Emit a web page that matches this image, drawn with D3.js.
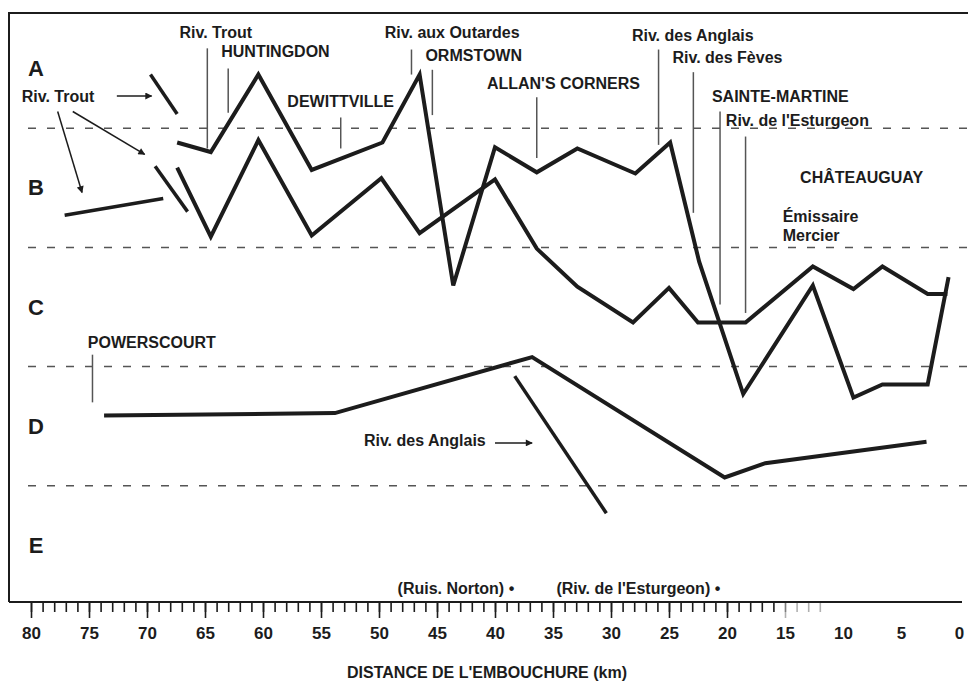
<!DOCTYPE html>
<html>
<head>
<meta charset="utf-8">
<script src="https://cdn.jsdelivr.net/npm/d3@7"></script>
<style>
  body { margin: 0; background: #fff; }
  text { font-family: "Liberation Sans", Arial, sans-serif; font-weight: bold; fill: #1c1c1c; }
</style>
</head>
<body>
<div id="chart"></div>
<script>
// quality classes, boundaries sit on whole numbers of the class index
let classes = ["A", "B", "C", "D", "E"];
let boundaries = [1, 2, 3, 4];

// profiles along the river: [km from mouth, class index]
let upperProfile = [
  [67.4, 1.12], [64.5, 1.20], [60.4, 0.55], [55.8, 1.35], [49.7, 1.12],
  [46.5, 0.55], [43.6, 2.32], [40.0, 1.16], [36.4, 1.37], [32.9, 1.17],
  [27.9, 1.38], [24.9, 1.12], [22.4, 2.12], [18.6, 3.23], [12.6, 2.32],
  [9.1, 3.26], [6.6, 3.15], [2.7, 3.15], [0.9, 2.25]
];
let lowerProfile = [
  [67.4, 1.33], [64.5, 1.91], [60.4, 1.10], [55.8, 1.90], [49.8, 1.42],
  [46.5, 1.88], [40.0, 1.43], [36.4, 2.01], [32.9, 2.33], [28.1, 2.63],
  [25.0, 2.34], [22.5, 2.63], [18.4, 2.63], [12.6, 2.16], [9.1, 2.35],
  [6.6, 2.16], [2.7, 2.39], [1.0, 2.39]
];
let powerscourtProfile = [
  [73.7, 3.41], [53.8, 3.39], [36.8, 2.92], [20.2, 3.93], [16.7, 3.81], [2.8, 3.63]
];

// short tributary segments
let tributaries = [
  [[69.7, 0.55], [67.4, 0.88]],
  [[69.3, 1.32], [66.5, 1.70]],
  [[77.1, 1.73], [68.6, 1.59]],
  [[38.3, 3.08], [30.4, 4.23]]
];

// place markers: km, top and bottom in class index
let markers = [
  { km: 64.8, top: 0.33, bottom: 1.17 },
  { km: 63.0, top: 0.50, bottom: 0.87 },
  { km: 53.3, top: 0.91, bottom: 1.17 },
  { km: 47.2, top: 0.34, bottom: 0.55 },
  { km: 45.4, top: 0.51, bottom: 0.89 },
  { km: 36.4, top: 0.74, bottom: 1.25 },
  { km: 25.9, top: 0.34, bottom: 1.14 },
  { km: 22.9, top: 0.53, bottom: 1.71 },
  { km: 20.6, top: 0.86, bottom: 2.48 },
  { km: 18.4, top: 1.07, bottom: 2.55 },
  { km: 74.7, top: 2.90, bottom: 3.30 }
];

// place names: text start (km) and baseline (class index)
let labels = [
  { text: "Riv. Trout", km: 67.2, v: 0.24 },
  { text: "HUNTINGDON", km: 63.6, v: 0.40 },
  { text: "DEWITTVILLE", km: 57.9, v: 0.82 },
  { text: "Riv. aux Outardes", km: 49.5, v: 0.24 },
  { text: "ORMSTOWN", km: 46.0, v: 0.44 },
  { text: "ALLAN'S CORNERS", km: 40.7, v: 0.67 },
  { text: "Riv. des Anglais", km: 28.2, v: 0.27 },
  { text: "Riv. des Fèves", km: 24.7, v: 0.45 },
  { text: "SAINTE-MARTINE", km: 21.3, v: 0.78 },
  { text: "Riv. de l'Esturgeon", km: 20.1, v: 0.98 },
  { text: "CHÂTEAUGUAY", km: 13.7, v: 1.46 },
  { text: "Émissaire", km: 15.2, v: 1.79 },
  { text: "Mercier", km: 15.2, v: 1.95 },
  { text: "POWERSCOURT", km: 75.1, v: 2.84 },
  { text: "Riv. Trout", km: 80.8, v: 0.78 },
  { text: "Riv. des Anglais", km: 51.3, v: 3.67 },
  { text: "(Ruis. Norton) •", km: 48.4, v: 4.91 },
  { text: "(Riv. de l'Esturgeon) •", km: 34.7, v: 4.91 }
];

// arrows pointing to the tributaries
let arrows = [
  [[72.6, 0.73], [69.6, 0.73]],
  [[76.4, 0.86], [70.2, 1.22]],
  [[77.7, 0.86], [75.6, 1.54]],
  [[40.0, 3.64], [36.8, 3.64]]
];

let majorTicks = d3.range(0, 81, 5);
let minorTicks = d3.range(12, 81);
let axisTitle = "DISTANCE DE L'EMBOUCHURE (km)";

// Section 1: svg and scales
let width = 974;
let height = 683;

let svg = d3.select("#chart")
  .append("svg")
  .attr("width", width)
  .attr("height", height);

let xScale = d3.scaleLinear().domain([80, 0]).range([31, 959]);
let yScale = d3.scaleLinear().domain([0, 5]).range([9, 605]);

let line = d3.line()
  .x(function(d) { return xScale(d[0]); })
  .y(function(d) { return yScale(d[1]); });

let ink = "#1c1c1c";

// arrow head
svg.append("defs")
  .append("marker")
  .attr("id", "head")
  .attr("viewBox", "0 0 10 10")
  .attr("refX", 9)
  .attr("refY", 5)
  .attr("markerWidth", 9)
  .attr("markerHeight", 7)
  .attr("markerUnits", "userSpaceOnUse")
  .attr("orient", "auto")
  .append("path")
  .attr("d", "M0,0 L10,5 L0,10 z")
  .attr("fill", ink);

// frame: left and top border
svg.append("path")
  .attr("d", "M9,602 L9,13 L968,13")
  .attr("fill", "none")
  .attr("stroke", ink)
  .attr("stroke-width", 2);

// class boundaries (dashed)
svg.selectAll(".bound")
  .data(boundaries)
  .enter()
  .append("line")
  .attr("class", "bound")
  .attr("x1", 28)
  .attr("x2", 970)
  .attr("y1", function(d) { return yScale(d); })
  .attr("y2", function(d) { return yScale(d); })
  .attr("stroke", "#555")
  .attr("stroke-width", 1.5)
  .attr("stroke-dasharray", "8,11");

// class letters
svg.selectAll(".cls")
  .data(classes)
  .enter()
  .append("text")
  .attr("class", "cls")
  .attr("x", 36)
  .attr("y", function(d, i) { return yScale(i + 0.5); })
  .attr("text-anchor", "middle")
  .attr("dominant-baseline", "central")
  .style("font-size", "22px")
  .text(function(d) { return d; });

// place markers
svg.selectAll(".marker")
  .data(markers)
  .enter()
  .append("line")
  .attr("class", "marker")
  .attr("x1", function(d) { return xScale(d.km); })
  .attr("x2", function(d) { return xScale(d.km); })
  .attr("y1", function(d) { return yScale(d.top); })
  .attr("y2", function(d) { return yScale(d.bottom); })
  .attr("stroke", "#555")
  .attr("stroke-width", 1.5);

// profiles
[upperProfile, lowerProfile, powerscourtProfile].forEach(function(p) {
  svg.append("path")
    .datum(p)
    .attr("d", line)
    .attr("fill", "none")
    .attr("stroke", ink)
    .attr("stroke-width", 4)
    .attr("stroke-linejoin", "miter");
});

// tributaries
svg.selectAll(".trib")
  .data(tributaries)
  .enter()
  .append("path")
  .attr("class", "trib")
  .attr("d", line)
  .attr("fill", "none")
  .attr("stroke", ink)
  .attr("stroke-width", 3.5);

// arrows
svg.selectAll(".arrow")
  .data(arrows)
  .enter()
  .append("path")
  .attr("class", "arrow")
  .attr("d", line)
  .attr("fill", "none")
  .attr("stroke", ink)
  .attr("stroke-width", 1.5)
  .attr("marker-end", "url(#head)");

// labels
svg.selectAll(".lbl")
  .data(labels)
  .enter()
  .append("text")
  .attr("class", "lbl")
  .attr("x", function(d) { return xScale(d.km); })
  .attr("y", function(d) { return yScale(d.v); })
  .style("font-size", "16px")
  .text(function(d) { return d.text; });

// Section 2: ruler at the bottom
let rulerY = 602;

let minorAxis = d3.axisBottom(xScale)
  .tickValues(minorTicks)
  .tickSize(10)
  .tickFormat("");

let majorAxis = d3.axisBottom(xScale)
  .tickValues(majorTicks)
  .tickSize(16)
  .tickPadding(9)
  .tickFormat(d3.format("d"));

let gMinor = svg.append("g")
  .attr("transform", "translate(0," + rulerY + ")")
  .call(minorAxis);

let gMajor = svg.append("g")
  .attr("transform", "translate(0," + rulerY + ")")
  .call(majorAxis);

[gMinor, gMajor].forEach(function(g) {
  g.select(".domain").remove();
  g.selectAll(".tick line").attr("stroke", ink).attr("stroke-width", 1.6);
});

// ticks fade out towards the mouth
gMinor.selectAll(".tick line")
  .attr("stroke-opacity", function(d) { return d < 16 ? 0.35 : 1; });
gMajor.selectAll(".tick line")
  .attr("stroke-opacity", function(d) { return d < 15 ? 0 : (d < 20 ? 0.35 : 1); });

gMajor.selectAll(".tick text")
  .style("font-size", "17px")
  .style("font-family", "'Liberation Sans', Arial, sans-serif")
  .style("font-weight", "bold")
  .attr("fill", ink);

svg.append("line")
  .attr("x1", 9)
  .attr("x2", 962)
  .attr("y1", rulerY)
  .attr("y2", rulerY)
  .attr("stroke", ink)
  .attr("stroke-width", 2);

svg.append("text")
  .attr("x", 487)
  .attr("y", 678)
  .attr("text-anchor", "middle")
  .style("font-size", "16px")
  .text(axisTitle);
</script>
</body>
</html>
